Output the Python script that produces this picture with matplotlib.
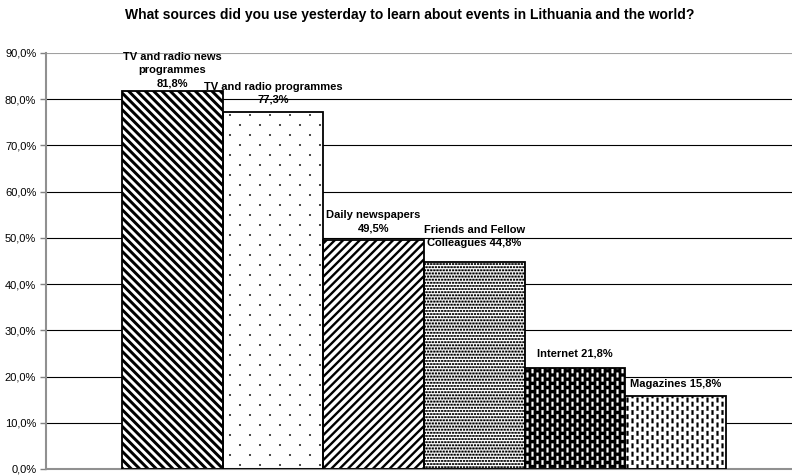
import warnings
import numpy as np
import matplotlib
matplotlib.use("Agg")
import matplotlib.pyplot as plt
from matplotlib import hatch as mhatch
from matplotlib.path import Path

warnings.filterwarnings("ignore")

# ---- data -------------------------------------------------------------
title = "What sources did you use yesterday to learn about events in Lithuania and the world?"
categories = ["TV and radio news\nprogrammes", "TV and radio programmes", "Daily newspapers",
              "Friends and Fellow\nColleagues", "Internet", "Magazines"]
values = [81.8, 77.3, 49.5, 44.8, 21.8, 15.8]
label_joins = ["\n", "\n", "\n", " ", " ", " "]
y_ticks = [0, 10, 20, 30, 40, 50, 60, 70, 80, 90]

# ---- fill styles (face colour, pattern colour, hatch, hatch linewidth) --
BACKSLASH = chr(92)
fills = [
    ("black", "white", BACKSLASH * 4, 2.1),
    ("white", "#333333", ",", 0.3),
    ("white", "black", "////", 1.7),
    ("white", "black", ";", 0.3),
    ("black", "white", ":", 0.3),
    ("white", "black", ":", 0.3),
]
label_lift = [2, 5, 5, 10, 7, 5]


class TileHatch(mhatch.HatchPatternBase):
    """Rectangle-tile hatches: ',' sparse dots, ';' fine stipple, ':' staggered dashes."""
    specs = {
        ",": dict(ncol=5, nrow=10, w=0.016, h=0.016, stagger="row"),
        ";": dict(ncol=32, nrow=32, w=0.018, h=0.014, stagger="row"),
        ":": dict(ncol=20, nrow=12, w=0.016, h=0.045, stagger="col"),
    }

    def __init__(self, hatch, density):
        self.rects = []
        for ch, s in self.specs.items():
            if ch in hatch:
                self.rects.extend(self._layout(**s))
        self.num_vertices = 5 * len(self.rects)

    @staticmethod
    def _layout(ncol, nrow, w, h, stagger):
        out = []
        for i in range(ncol):
            for j in range(nrow):
                if stagger == "row":
                    cx = (i + 0.5 + 0.5 * (j % 2)) / ncol
                    cy = (j + 0.5) / nrow
                else:
                    cx = (i + 0.5) / ncol
                    cy = (j + 0.5 + 0.5 * (i % 2)) / nrow
                for dx in (-1, 0, 1):
                    for dy in (-1, 0, 1):
                        x0, y0 = cx + dx - w / 2, cy + dy - h / 2
                        if x0 < 1 and x0 + w > 0 and y0 < 1 and y0 + h > 0:
                            out.append((x0, y0, w, h))
        return out

    def set_vertices_and_codes(self, vertices, codes):
        for k, (x0, y0, w, h) in enumerate(self.rects):
            vertices[5 * k:5 * k + 5] = [(x0, y0), (x0 + w, y0), (x0 + w, y0 + h),
                                         (x0, y0 + h), (x0, y0)]
            codes[5 * k:5 * k + 5] = [Path.MOVETO, Path.LINETO, Path.LINETO,
                                      Path.LINETO, Path.CLOSEPOLY]


mhatch._hatch_types.append(TileHatch)

plt.rcParams["font.family"] = ["Liberation Sans", "DejaVu Sans"]

fig = plt.figure(figsize=(7.92, 4.75), dpi=100)
ax = fig.add_axes([46 / 792, 6 / 475, 755.5 / 792, 416 / 475])

x = np.arange(len(values))
for xi, v, (face, pat, hatch, hlw) in zip(x, values, fills):
    with plt.rc_context({"hatch.linewidth": hlw}):
        bars = ax.bar(xi, v, width=1.0, color=face, edgecolor=pat, linewidth=0,
                      hatch=hatch, zorder=2)
    for b in bars:
        if hasattr(b, "set_hatch_linewidth"):
            b.set_hatch_linewidth(hlw)
    ax.bar(xi, v, width=1.0, fill=False, edgecolor="black", linewidth=1.3, zorder=3)

for xi, v, name, sep, lift in zip(x, values, categories, label_joins, label_lift):
    txt = f"{name}{sep}{v:.1f}%".replace(".", ",")
    ax.annotate(txt, (xi, v), xytext=(0, lift), textcoords="offset points",
                ha="center", va="bottom", fontsize=8, fontweight="bold",
                linespacing=1.4, zorder=4, annotation_clip=False)

ax.set_xlim(-1.255, 6.25)
ax.set_ylim(0, 90)
ax.set_yticks(y_ticks)
ax.set_yticklabels([f"{t:.1f}%".replace(".", ",") for t in y_ticks], fontsize=8)
ax.set_xticks([])
ax.tick_params(axis="y", direction="out", length=4, width=1, color="#808080", pad=3)

ax.set_axisbelow(True)
ax.yaxis.grid(True, color="black", linewidth=0.8)
grid = ax.yaxis.get_gridlines()
grid[-1].set_color("#a0a0a0")

for side in ("top", "right"):
    ax.spines[side].set_visible(False)
for side in ("left", "bottom"):
    ax.spines[side].set_color("#909090")
    ax.spines[side].set_linewidth(1.5)

fig.text(410 / 792, 1 - 15 / 475, title, ha="center", va="center",
         fontsize=10, fontweight="bold")

fig.savefig("out.png", dpi=100)
